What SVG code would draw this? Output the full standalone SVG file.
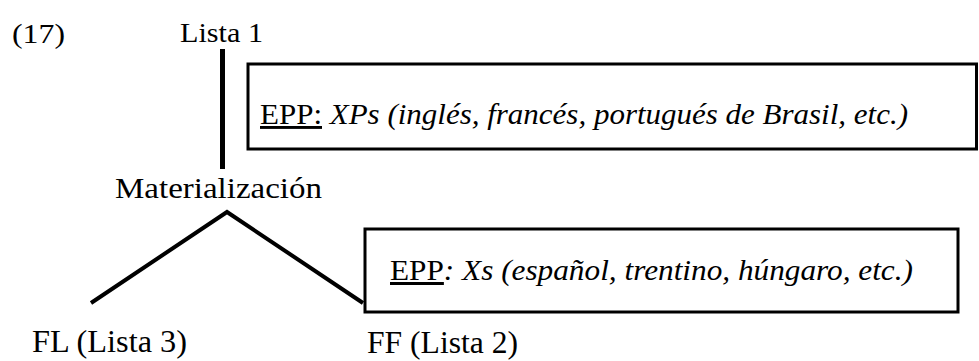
<svg xmlns="http://www.w3.org/2000/svg" width="979" height="361" viewBox="0 0 979 361">
<defs>
<style>
.it{font-style:italic}
.u{text-decoration:underline}
.box{fill:#fff;stroke:#000;stroke-width:3}
.edge{stroke:#000;fill:none;stroke-linecap:butt}
</style>
</defs>
<rect width="979" height="361" fill="#fff"/>
<g id="label17"><text font-family="Liberation Serif" x="12" y="43" font-size="28" textLength="53" lengthAdjust="spacingAndGlyphs">(17)</text></g>
<g id="connectors">
<line class="edge" x1="222.5" y1="49" x2="222.5" y2="169" stroke-width="5"/>
<polyline class="edge" points="91,303 227,212 363,303" stroke-width="4"/>
</g>
<g id="lista1"><text font-family="Liberation Serif" x="180" y="42" font-size="27" textLength="83" lengthAdjust="spacingAndGlyphs">Lista 1</text></g>
<g id="materializacion"><text font-family="Liberation Serif" x="115" y="198" font-size="30" textLength="207" lengthAdjust="spacingAndGlyphs">Materialización</text></g>
<g id="fl"><text font-family="Liberation Serif" x="32" y="352" font-size="31" textLength="155" lengthAdjust="spacingAndGlyphs">FL (Lista 3)</text></g>
<g id="ff"><text font-family="Liberation Serif" x="367" y="353" font-size="31" textLength="151" lengthAdjust="spacingAndGlyphs">FF (Lista 2)</text></g>
<g id="box1">
<rect class="box" x="248" y="64" width="728.5" height="85"/>
<text font-family="Liberation Serif" x="260" y="124" font-size="29" textLength="648" lengthAdjust="spacingAndGlyphs"><tspan class="u">EPP:</tspan><tspan class="it"> XPs (inglés, francés, portugués de Brasil, etc.)</tspan></text>
</g>
<g id="box2">
<rect class="box" x="365" y="229" width="593" height="83"/>
<text font-family="Liberation Serif" x="390" y="280" font-size="30" textLength="523" lengthAdjust="spacingAndGlyphs"><tspan class="u">EPP</tspan><tspan class="it">: Xs (español, trentino, húngaro, etc.)</tspan></text>
</g>
</svg>
